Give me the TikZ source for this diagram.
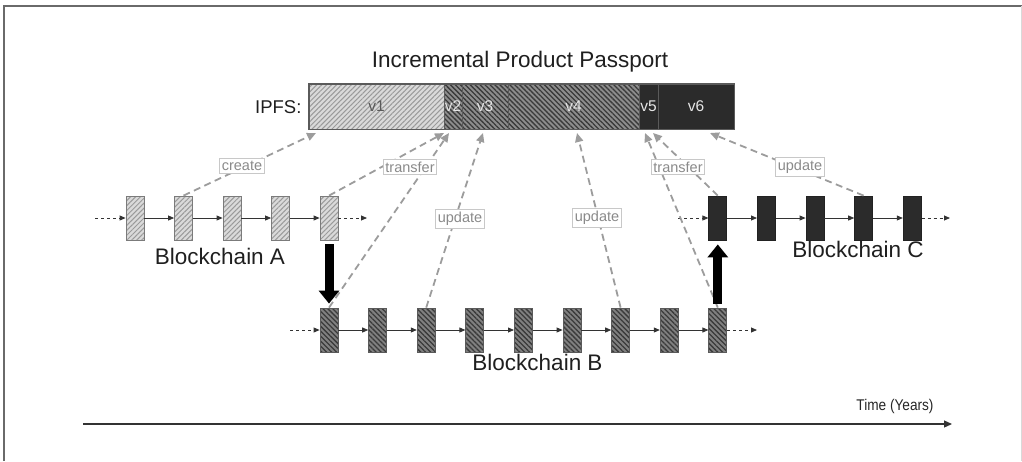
\documentclass[tikz,border=0pt]{standalone}
\usepackage{fontspec}
\setmainfont{Liberation Sans}
\usetikzlibrary{arrows.meta,patterns.meta,calc}
\definecolor{fillA}{HTML}{DADADA}
\definecolor{hatchA}{HTML}{9A9A9A}
\definecolor{fillB}{HTML}{808080}
\definecolor{hatchB}{HTML}{3A3A3A}
\definecolor{darkC}{HTML}{2B2B2B}
\definecolor{bord}{HTML}{5A5A5A}
\definecolor{conncol}{HTML}{9C9C9C}
\definecolor{lbltext}{HTML}{8A8A8A}
\definecolor{lblbord}{HTML}{C8C8C8}
\definecolor{framec}{HTML}{6A6A6A}
\begin{document}
\begin{tikzpicture}[x=1pt,y=-1pt,
  blk/.style={draw=bord, line width=0.8pt, minimum width=18pt, minimum height=44pt, inner sep=0pt},
  blkA/.style={blk, draw=hatchA!80!black, preaction={fill=fillA}, pattern={Lines[angle=45,distance=3.5pt,line width=1pt]}, pattern color=hatchA},
  blkB/.style={blk, preaction={fill=fillB}, pattern={Lines[angle=-45,distance=3.5pt,line width=1.3pt]}, pattern color=hatchB},
  blkC/.style={blk, fill=darkC, draw=darkC!80!black},
  seg/.style={draw=bord, line width=0.8pt, minimum height=45pt, inner sep=0pt, font=\fontsize{15.5}{18}\selectfont},
  segA/.style={seg, preaction={fill=fillA}, pattern={Lines[angle=45,distance=3.5pt,line width=1pt]}, pattern color=hatchA, text=black!65},
  segB/.style={seg, preaction={fill=fillB!90}, pattern={Lines[angle=-45,distance=3.5pt,line width=1.3pt]}, pattern color=hatchB, text=white!90!black},
  segC/.style={seg, fill=darkC, text=white!90!black},
  chain/.style={draw=black!80, line width=0.8pt, -{Triangle[length=6pt,width=5pt]}},
  dotchain/.style={chain, dash pattern=on 3pt off 3pt},
  conn/.style={draw=conncol, line width=1.8pt, dash pattern=on 7pt off 4.5pt, -{Triangle[length=9pt,width=8pt]}},
  lbl/.style={fill=white, draw=lblbord, line width=0.8pt, text=lbltext, inner xsep=2pt, inner ysep=2.5pt, font=\fontsize{14.5}{16}\selectfont},
  bigarrow/.style={draw=black, line width=9pt, -{Triangle[length=13pt,width=20pt]}, shorten <=4pt, shorten >=4pt},
  chainlbl/.style={font=\fontsize{22.5}{26}\selectfont, text=black!88}
]
\useasboundingbox (0,0) rectangle (1022,461);
% frame
\draw[framec, line width=1.6pt] (4,461) -- (4,6) -- (1022,6);
\draw[black!15, line width=0.8pt] (1021,6) -- (1021,461);

% title and IPFS bar
\node[font=\fontsize{22.5}{26}\selectfont, text=black!88] (title) at (520,62) {Incremental Product Passport};
\node[font=\fontsize{18.5}{22}\selectfont, text=black!88, anchor=east] (ipfs) at (305,107) {IPFS:};
\node[segA, minimum width=135pt] (v1) at (376.5,106.5) {v1};
\node[segB, minimum width=18pt] (v2) at (453,106.5) {v2};
\node[segB, minimum width=46pt] (v3) at (485,106.5) {v3};
\node[segB, minimum width=131pt] (v4) at (573.5,106.5) {v4};
\node[segC, minimum width=19pt] (v5) at (648.5,106.5) {v5};
\node[segC, minimum width=76pt] (v6) at (696,106.5) {v6};
\draw[bord, line width=0.8pt] (v5.north east) -- (v5.south east);
\draw[bord, line width=1pt] (v1.north west) rectangle (v6.south east);

% Blockchain A
\foreach \i/\x in {1/135,2/183.5,3/232,4/280.5,5/329}
  \node[blkA] (a\i) at (\x,218) {};
\coordinate (ain) at (95,218);
\coordinate (aout) at (367,218);
\draw[dotchain] (ain) -- (a1);
\draw[chain] (a1) -- (a2);
\draw[chain] (a2) -- (a3);
\draw[chain] (a3) -- (a4);
\draw[chain] (a4) -- (a5);
\draw[dotchain] (a5) -- (aout);
\node[chainlbl] (la) at (220,256) {Blockchain A};

% Blockchain B
\foreach \i/\x in {1/329,2/377.6,3/426.2,4/474.8,5/523.4,6/572,7/620.6,8/669.2,9/717.8}
  \node[blkB] (b\i) at (\x,330) {};
\coordinate (bin) at (290,330);
\coordinate (bout) at (757,330);
\draw[dotchain] (bin) -- (b1);
\foreach \i/\j in {1/2,2/3,3/4,4/5,5/6,6/7,7/8,8/9}
  \draw[chain] (b\i) -- (b\j);
\draw[dotchain] (b9) -- (bout);
\node[chainlbl] (lb) at (537.5,362) {Blockchain B};

% Blockchain C
\foreach \i/\x in {1/717.8,2/766.4,3/815,4/863.6,5/912.2}
  \node[blkC] (c\i) at (\x,218) {};
\coordinate (cin) at (678,218);
\coordinate (cout) at (950,218);
\draw[dotchain] (cin) -- (c1);
\foreach \i/\j in {1/2,2/3,3/4,4/5}
  \draw[chain] (c\i) -- (c\j);
\draw[dotchain] (c5) -- (cout);
\node[chainlbl] (lc) at (858,249) {Blockchain C};

% targets on IPFS bar
\coordinate (t1) at (316,133);
\coordinate (t2) at (444,133);
\coordinate (t3) at (449,133);
\coordinate (t4) at (483,133);
\coordinate (t5) at (577,133);
\coordinate (t6) at (645,133);
\coordinate (t7) at (653,133);
\coordinate (t8) at (710,133);

% dashed connectors
\draw[conn] (a2.north) -- (t1);
\draw[conn] (a5.north) -- (t2);
\draw[conn] (b1.north) -- (t3);
\draw[conn] (b3.north) -- (t4);
\draw[conn] (b7.north) -- (t5);
\draw[conn] (b9.north) -- (t6);
\draw[conn] (c1.north) -- (t7);
\draw[conn] (c4.north) -- (t8);

% labels
\node[lbl] (lcreate) at (242,166) {create};
\node[lbl] (ltrans1) at (410,167) {transfer};
\node[lbl] (lupd1) at (460,219) {update};
\node[lbl] (lupd2) at (597,218) {update};
\node[lbl] (ltrans2) at (678,167) {transfer};
\node[lbl] (lupd3) at (800,167) {update};

% thick transfer arrows
\draw[bigarrow] (a5) -- (b1);
\draw[bigarrow] (b9) -- (c1);

% time axis
\node[font=\fontsize{15.5}{18}\selectfont, text=black!85, xscale=0.88, transform shape] (time) at (895,406) {Time (Years)};
\coordinate (tstart) at (83,424);
\coordinate (tend) at (952,424);
\draw[black!80, line width=1.2pt, -{Triangle[length=8pt,width=7pt]}] (tstart) -- (tend);
\end{tikzpicture}
\end{document}
